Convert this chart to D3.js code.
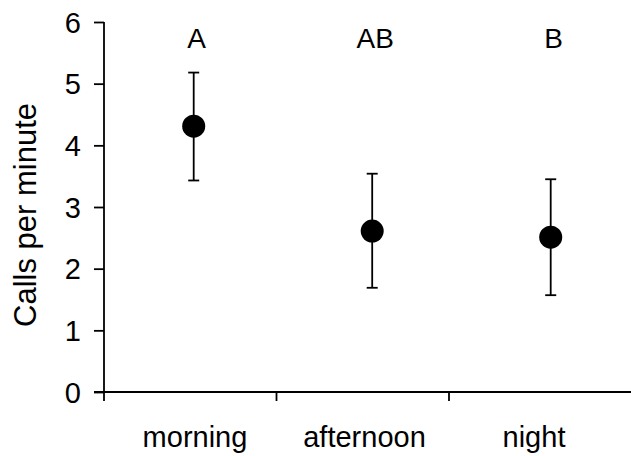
<!DOCTYPE html>
<html>
<head>
<meta charset="utf-8">
<script src="https://cdn.jsdelivr.net/npm/d3@7"></script>
<style>
  html, body { margin: 0; padding: 0; background: #fff; }
  svg { display: block; }
  text { font-family: "Liberation Sans", Arial, sans-serif; fill: #000; }
</style>
</head>
<body>
<svg id="chart" width="631" height="456"></svg>
<script>
const categories = ["morning", "afternoon", "night"];
const means = [4.31, 2.61, 2.51];
const upper = [5.18, 3.54, 3.45];
const lower = [3.43, 1.69, 1.57];
const letters = ["A", "AB", "B"];
const yTicks = [0, 1, 2, 3, 4, 5, 6];
const yTitle = "Calls per minute";

const svg = d3.select("#chart");
const y = d3.scaleLinear().domain([0, 6]).range([392, 22]);
const xBand = d3.scaleBand().domain(categories).range([104, 621.5]);
const xPt = d3.scalePoint().domain(categories).range([193.7, 550.7]);
const xLab = d3.scalePoint().domain(categories).range([195, 534]);

const ink = "#000";
const sw = 1.8;

// y axis
const yAxis = d3.axisLeft(y).tickValues(yTicks).tickSize(10).tickPadding(13).tickFormat(d3.format("d"));
const gy = svg.append("g").attr("transform", "translate(104,0)").call(yAxis);
gy.select(".domain").remove();
gy.selectAll(".tick line").attr("stroke", ink).attr("stroke-width", sw);
gy.selectAll(".tick text").style("font-size", "29px").attr("dy", "0.35em");
svg.append("line").attr("x1", 104).attr("x2", 104).attr("y1", y(6)).attr("y2", y(0) + 9)
  .attr("stroke", ink).attr("stroke-width", sw);

// x axis
svg.append("line").attr("x1", 94).attr("x2", 631).attr("y1", y(0)).attr("y2", y(0))
  .attr("stroke", ink).attr("stroke-width", sw);
svg.selectAll(".xtick").data(categories.slice(1)).enter().append("line")
  .attr("x1", d => xBand(d)).attr("x2", d => xBand(d))
  .attr("y1", y(0)).attr("y2", y(0) + 9)
  .attr("stroke", ink).attr("stroke-width", sw);
svg.selectAll(".xlab").data(categories).enter().append("text")
  .attr("x", d => xLab(d)).attr("y", 447)
  .attr("text-anchor", "middle").style("font-size", "29px")
  .text(d => d);

// y title
svg.append("text")
  .attr("transform", "translate(36," + 215 + ") rotate(-90)")
  .attr("text-anchor", "middle").style("font-size", "31px")
  .text(yTitle);

// error bars
const idx = categories.map((c, i) => i);
svg.selectAll(".eb").data(idx).enter().append("line")
  .attr("x1", i => xPt(categories[i])).attr("x2", i => xPt(categories[i]))
  .attr("y1", i => y(upper[i])).attr("y2", i => y(lower[i]))
  .attr("stroke", ink).attr("stroke-width", sw);
[upper, lower].forEach(arr => {
  svg.selectAll(null).data(idx).enter().append("line")
    .attr("x1", i => xPt(categories[i]) - 5.5).attr("x2", i => xPt(categories[i]) + 5.5)
    .attr("y1", i => y(arr[i])).attr("y2", i => y(arr[i]))
    .attr("stroke", ink).attr("stroke-width", sw);
});
svg.selectAll(".pt").data(idx).enter().append("circle")
  .attr("cx", i => xPt(categories[i])).attr("cy", i => y(means[i]))
  .attr("r", 11.5).attr("fill", ink);

// letters
svg.selectAll(".let").data(idx).enter().append("text")
  .attr("x", i => xPt(categories[i]) + 3).attr("y", 47.5)
  .attr("text-anchor", "middle").style("font-size", "28px")
  .text(i => letters[i]);
</script>
</body>
</html>
